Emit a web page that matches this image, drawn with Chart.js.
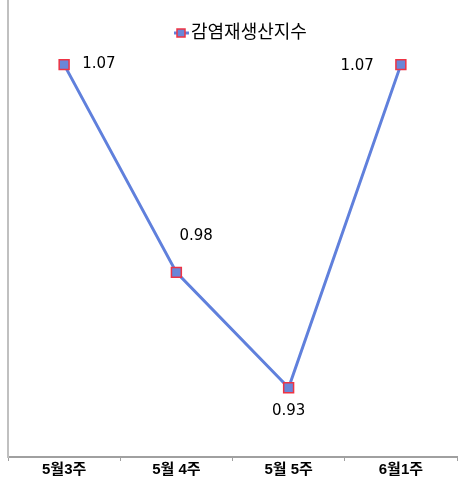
<!DOCTYPE html>
<html>
<head>
<meta charset="utf-8">
<script src="https://cdn.jsdelivr.net/npm/chart.js@4"></script>
<style>
  html, body { margin: 0; padding: 0; background: #fff; }
  #wrap { width: 463px; height: 486px; }
</style>
</head>
<body>
<div id="wrap"><canvas id="c" width="463" height="486"></canvas></div>
<script>
const categories = ["5월3주", "5월 4주", "5월 5주", "6월1주"];
const seriesName = "감염재생산지수";
const values = [1.07, 0.98, 0.93, 1.07];

// where each value label sits relative to its point (style only)
const labelPlace = [
  {dx: 18, dy: -1, align: "left"},
  {dx: 3, dy: -36, align: "left"},
  {dx: 0, dy: 23, align: "center"},
  {dx: -27, dy: 1, align: "right"}
];

const FONT = "'Liberation Sans', 'Noto Sans CJK KR', sans-serif";
const NUMFONT = "'DejaVu Sans', sans-serif";
const LINE = "#6080dc";
const FILL = "#6a86d8";
const EDGE = "#ee3344";

const valueLabels = {
  id: "valueLabels",
  afterDatasetsDraw(chart) {
    const ctx = chart.ctx;
    const meta = chart.getDatasetMeta(0);
    ctx.save();
    ctx.font = "15px " + NUMFONT;
    ctx.fillStyle = "#000";
    ctx.textBaseline = "middle";
    meta.data.forEach((pt, i) => {
      const p = labelPlace[i];
      ctx.textAlign = p.align;
      ctx.fillText(values[i].toFixed(2), pt.x + p.dx, pt.y + p.dy);
    });
    ctx.restore();
  }
};

const innerLegend = {
  id: "innerLegend",
  afterDraw(chart) {
    const ctx = chart.ctx;
    const y = 33;
    ctx.save();
    ctx.strokeStyle = LINE;
    ctx.lineWidth = 3;
    ctx.beginPath();
    ctx.moveTo(174, y);
    ctx.lineTo(189, y);
    ctx.stroke();
    ctx.fillStyle = FILL;
    ctx.fillRect(177, y - 4, 8, 8);
    ctx.strokeStyle = EDGE;
    ctx.lineWidth = 1.5;
    ctx.strokeRect(177, y - 4, 8, 8);
    ctx.font = "18px " + FONT;
    ctx.fillStyle = "#000";
    ctx.textAlign = "left";
    ctx.textBaseline = "middle";
    ctx.fillText(chart.data.datasets[0].label, 191, y);
    ctx.restore();
  }
};

new Chart(document.getElementById("c"), {
  type: "line",
  data: {
    labels: categories,
    datasets: [{
      label: seriesName,
      data: values,
      borderColor: LINE,
      borderWidth: 3,
      pointStyle: "rect",
      pointRadius: 7,
      pointBackgroundColor: FILL,
      pointBorderColor: EDGE,
      pointBorderWidth: 1.5,
      tension: 0,
      clip: false
    }]
  },
  options: {
    responsive: false,
    animation: false,
    layout: { autoPadding: false, padding: { left: 8, right: 6, top: 0, bottom: 7 } },
    scales: {
      x: {
        offset: true,
        grid: {
          offset: true,
          drawOnChartArea: false,
          drawTicks: true,
          tickLength: 4,
          color: "#a0a0a0"
        },
        border: { color: "#a0a0a0", width: 2 },
        ticks: {
          color: "#000",
          font: { family: FONT, size: 15, weight: "bold" },
          padding: 0
        }
      },
      y: {
        min: 0.9,
        max: 1.098,
        grid: { display: false, drawTicks: false },
        border: { color: "#c0c0c0", width: 2 },
        ticks: { display: false }
      }
    },
    plugins: {
      legend: { display: false },
      tooltip: { enabled: false }
    }
  },
  plugins: [valueLabels, innerLegend]
});
</script>
</body>
</html>
